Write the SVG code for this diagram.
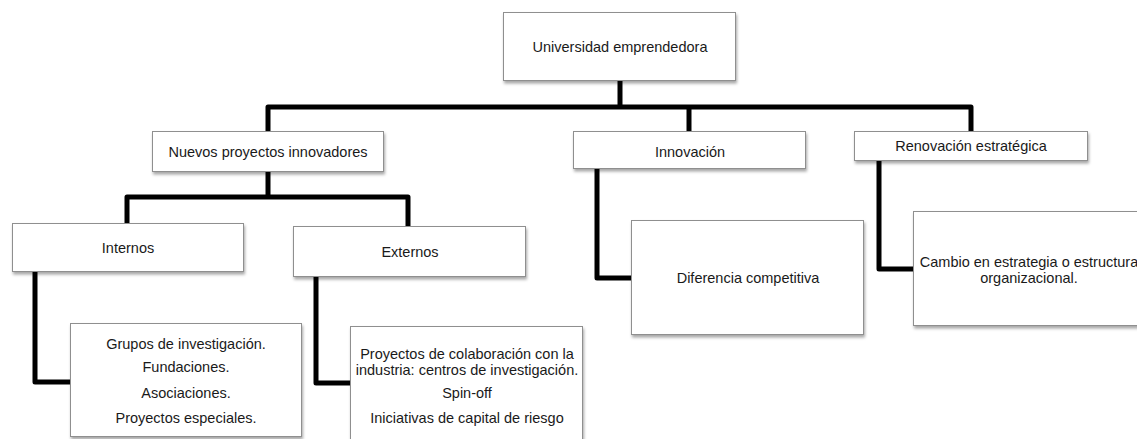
<svg xmlns="http://www.w3.org/2000/svg" width="1137" height="439" viewBox="0 0 1137 439">
<style>
.box{fill:#ffffff;stroke:#8f8f8f;stroke-width:1;filter:url(#sh)}
.lbl{font-family:"Liberation Sans",Arial,sans-serif;font-size:14.5px;fill:#1a1a1a;text-anchor:middle}
.con{fill:none;stroke:#000000;stroke-width:5;stroke-linejoin:round;stroke-linecap:butt}
</style>
<defs>
<filter id="sh" x="-10%" y="-20%" width="125%" height="150%">
<feDropShadow dx="1" dy="2.5" stdDeviation="1.6" flood-color="#000000" flood-opacity="0.35"/>
</filter>
</defs>
<rect width="1137" height="439" fill="#ffffff"/>
<g id="connectors">
<path class="con" d="M620,81 V107"/>
<path class="con" d="M268,131 V107 H971 V131"/>
<path class="con" d="M689,107 V131"/>
<path class="con" d="M268,172 V197"/>
<path class="con" d="M127,223 V197 H408 V226"/>
<path class="con" d="M35,272 V382 H70"/>
<path class="con" d="M316,277 V383 H350"/>
<path class="con" d="M597,169 V278 H631"/>
<path class="con" d="M879,161 V269 H913"/>
</g>
<g id="root">
<rect class="box" x="503.5" y="12.5" width="232" height="68"/>
<text class="lbl" x="620" y="52">Universidad emprendedora</text>
</g>
<g id="nuevos">
<rect class="box" x="152.5" y="131.5" width="231" height="40"/>
<text class="lbl" x="268" y="157">Nuevos proyectos innovadores</text>
</g>
<g id="innovacion">
<rect class="box" x="573.5" y="131.5" width="232" height="37"/>
<text class="lbl" x="690" y="157">Innovación</text>
</g>
<g id="renovacion">
<rect class="box" x="854.5" y="131.5" width="233" height="29"/>
<text class="lbl" x="971" y="151">Renovación estratégica</text>
</g>
<g id="internos">
<rect class="box" x="12.5" y="223.5" width="231" height="48"/>
<text class="lbl" x="128" y="253">Internos</text>
</g>
<g id="externos">
<rect class="box" x="293.5" y="226.5" width="232" height="50"/>
<text class="lbl" x="410" y="257">Externos</text>
</g>
<g id="grupos">
<rect class="box" x="70.5" y="323.5" width="231" height="113"/>
<text class="lbl" x="186" y="349">Grupos de investigación.</text>
<text class="lbl" x="186" y="372">Fundaciones.</text>
<text class="lbl" x="186" y="398">Asociaciones.</text>
<text class="lbl" x="186" y="423">Proyectos especiales.</text>
</g>
<g id="proyectos">
<rect class="box" x="350.5" y="326.5" width="232" height="125"/>
<text class="lbl" x="467" y="359">Proyectos de colaboración con la</text>
<text class="lbl" x="467" y="375">industria: centros de investigación.</text>
<text class="lbl" x="467" y="398">Spin-off</text>
<text class="lbl" x="467" y="423">Iniciativas de capital de riesgo</text>
</g>
<g id="diferencia">
<rect class="box" x="631.5" y="220.5" width="232" height="114"/>
<text class="lbl" x="748" y="283">Diferencia competitiva</text>
</g>
<g id="cambio">
<rect class="box" x="913.5" y="211.5" width="232" height="114"/>
<text class="lbl" x="1029" y="267">Cambio en estrategia o estructura</text>
<text class="lbl" x="1029" y="283">organizacional.</text>
</g>
</svg>
